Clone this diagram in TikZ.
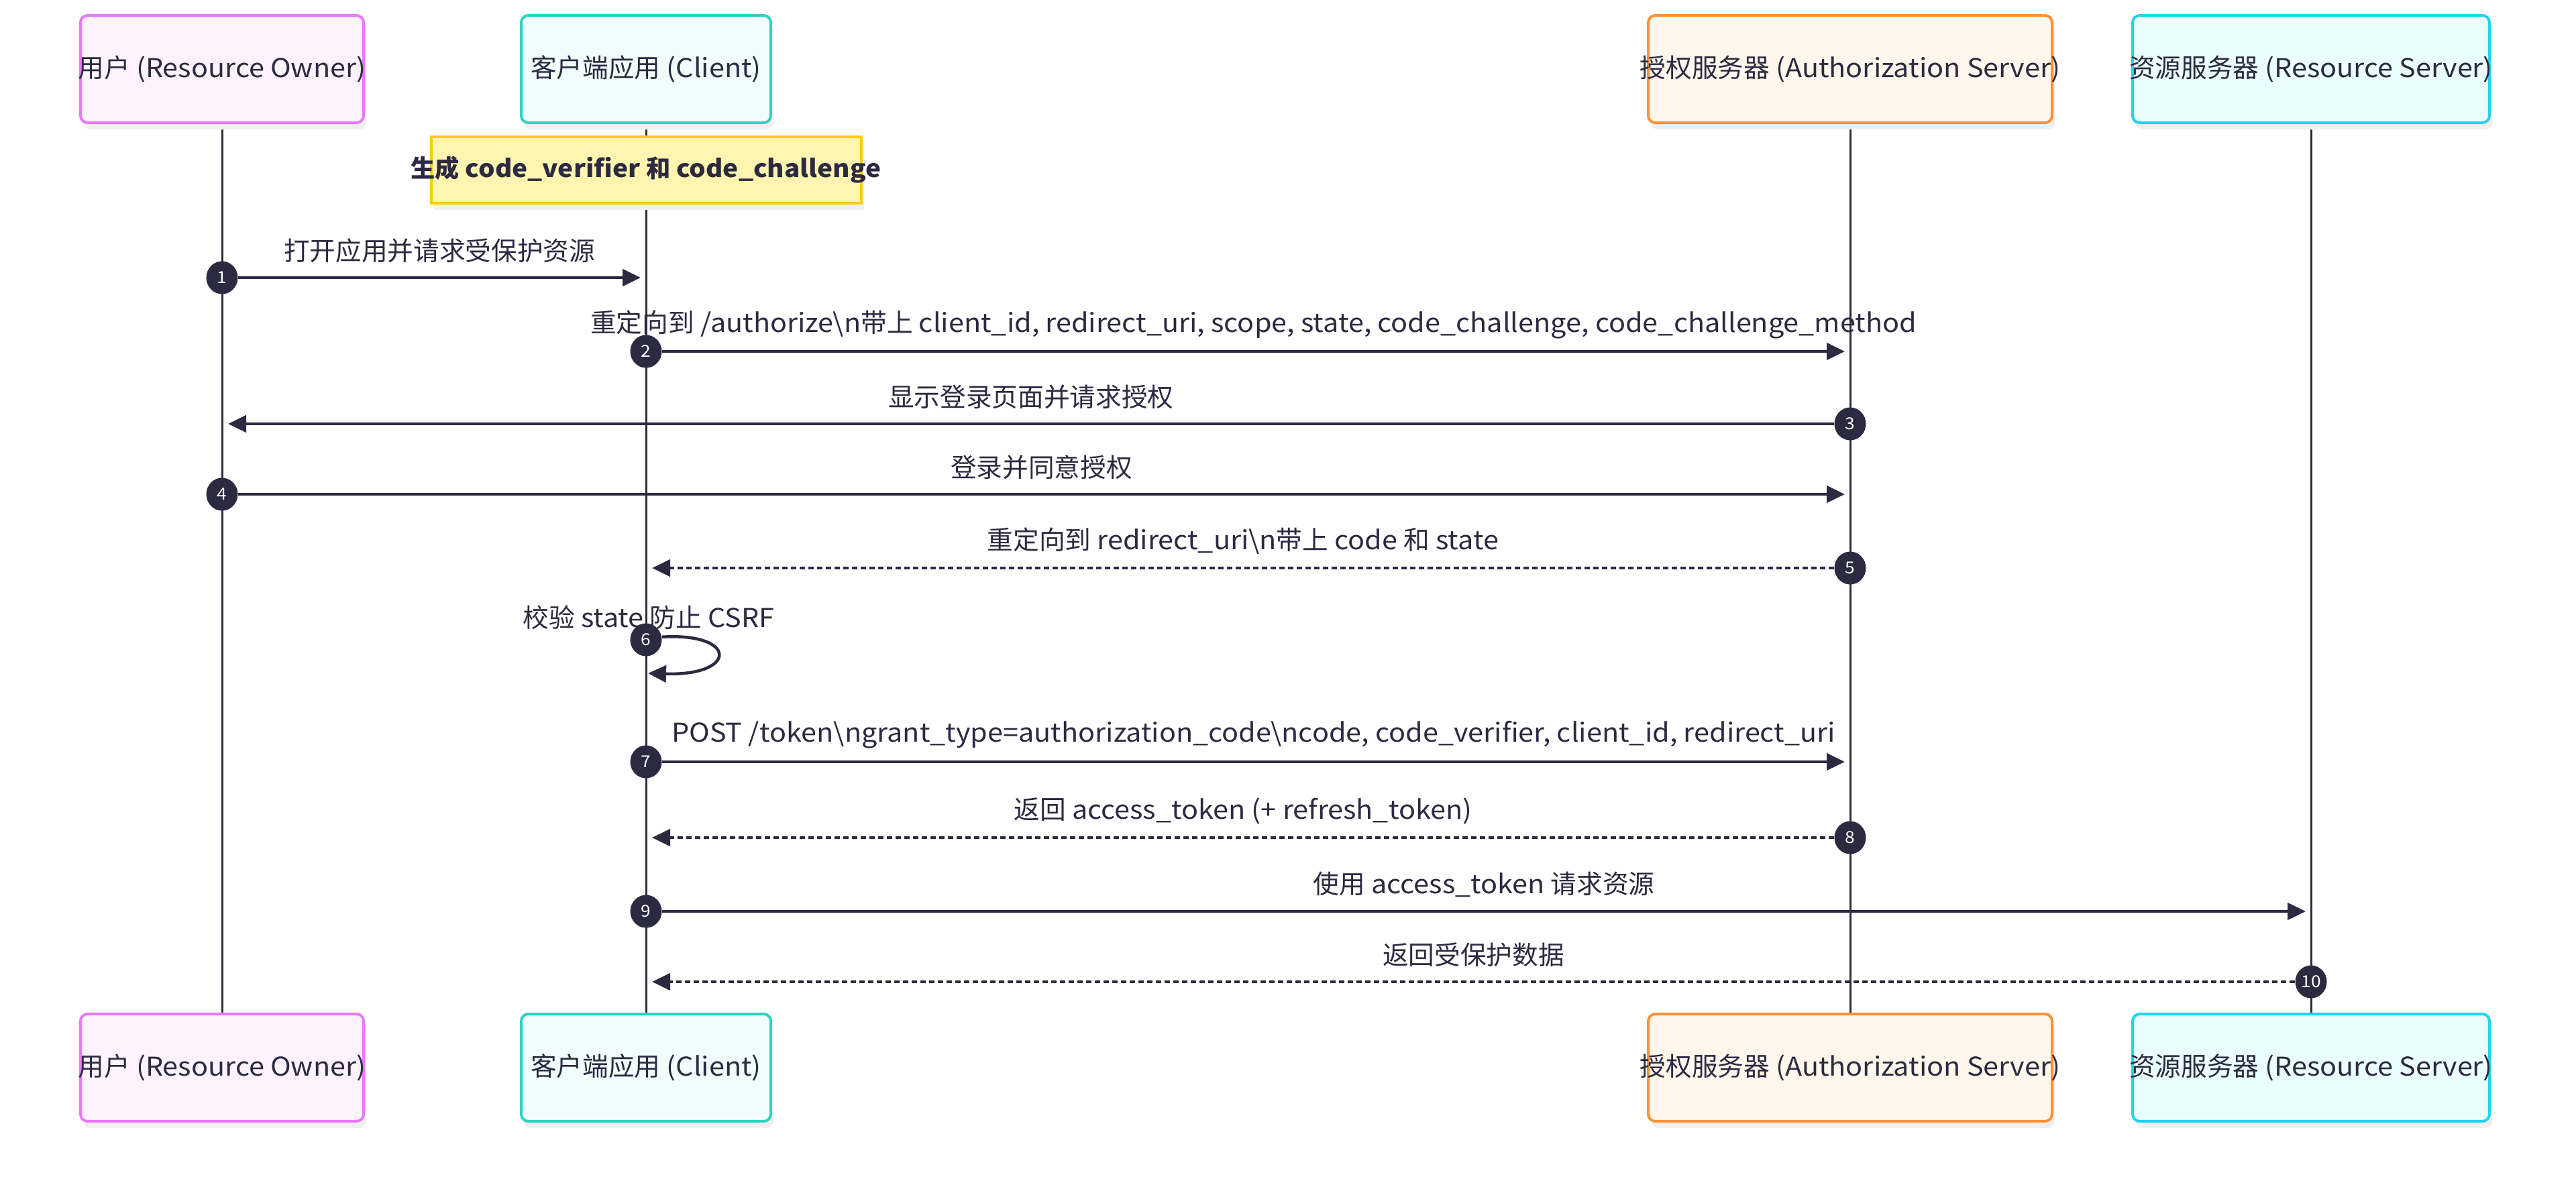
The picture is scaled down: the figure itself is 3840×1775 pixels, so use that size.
\documentclass[tikz,border=0pt]{standalone}
\usepackage{fontspec}
\setmainfont{Noto Sans CJK SC}[FakeStretch=1.07]
\newfontfamily\cjk{Noto Sans CJK SC}
\newcommand{\zh}[1]{{\cjk #1}}
\usetikzlibrary{arrows.meta,shadows,shapes.geometric}
\definecolor{ink}{HTML}{2B2A40}
\definecolor{ownerLine}{HTML}{E879F9}
\definecolor{ownerFill}{HTML}{FDF2FE}
\definecolor{clientLine}{HTML}{2DD4BF}
\definecolor{clientFill}{HTML}{F0FDFA}
\definecolor{authLine}{HTML}{FB923C}
\definecolor{authFill}{HTML}{FFF6EC}
\definecolor{resLine}{HTML}{22D3EE}
\definecolor{resFill}{HTML}{EBFEFF}
\definecolor{noteLine}{HTML}{FACC15}
\definecolor{noteFill}{HTML}{FFF5B0}

\begin{document}
\begin{tikzpicture}[x=0.1mm,y=-0.1mm,
    font=\fontsize{11}{13}\selectfont, text=ink,
    actor/.style={draw, rounded corners=3pt, line width=0.4mm, inner sep=0pt,
      minimum height=16mm, font=\fontsize{11}{13}\selectfont,
      drop shadow={shadow xshift=0.4mm, shadow yshift=-1mm, fill=black!6, opacity=1}},
    life/.style={draw=ink, line width=0.3mm},
    msg/.style={draw=ink, line width=0.45mm, -{Triangle[length=2.7mm,width=2.5mm]}},
    reply/.style={msg, dash pattern=on 0.8mm off 0.5mm},
    stepdot/.style={ellipse, fill=ink, text=white, inner sep=0pt, minimum width=4.7mm, minimum height=4.9mm,
      font=\fontsize{7}{8}\selectfont},
    lbl/.style={midway, yshift=4mm}]
  \useasboundingbox (0,0) rectangle (3840,1775);

  % Lifelines
  \draw[life] (331,183) -- (331,1513);
  \draw[life] (963,183) -- (963,1513);
  \draw[life] (2758,183) -- (2758,1513);
  \draw[life] (3445,183) -- (3445,1513);

  % Actors (top)
  \node[actor, draw=ownerLine, fill=ownerFill, minimum width=42.2mm] (ownerTop) at (331,103) {\makebox[0pt]{\zh{用户} (Resource Owner)}};
  \node[actor, draw=clientLine, fill=clientFill, minimum width=37.2mm] (clientTop) at (963,103) {\makebox[0pt]{\zh{客户端应用} (Client)}};
  \node[actor, draw=authLine, fill=authFill, minimum width=60.2mm] (authTop) at (2758,103) {\makebox[0pt]{\zh{授权服务器} (Authorization Server)}};
  \node[actor, draw=resLine, fill=resFill, minimum width=53.2mm] (resTop) at (3445,103) {\makebox[0pt]{\zh{资源服务器} (Resource Server)}};

  % Actors (bottom)
  \node[actor, draw=ownerLine, fill=ownerFill, minimum width=42.2mm] (ownerBot) at (331,1592) {\makebox[0pt]{\zh{用户} (Resource Owner)}};
  \node[actor, draw=clientLine, fill=clientFill, minimum width=37.2mm] (clientBot) at (963,1592) {\makebox[0pt]{\zh{客户端应用} (Client)}};
  \node[actor, draw=authLine, fill=authFill, minimum width=60.2mm] (authBot) at (2758,1592) {\makebox[0pt]{\zh{授权服务器} (Authorization Server)}};
  \node[actor, draw=resLine, fill=resFill, minimum width=53.2mm] (resBot) at (3445,1592) {\makebox[0pt]{\zh{资源服务器} (Resource Server)}};

  % Note
  \node[draw=noteLine, fill=noteFill, line width=0.4mm, minimum width=64.1mm, minimum height=9.9mm, inner sep=0pt,
    font=\fontsize{10.3}{13}\selectfont,
    drop shadow={shadow xshift=0.4mm, shadow yshift=-1mm, fill=black!6, opacity=1}] (note) at (963,253)
    {\makebox[0pt]{\bfseries \zh{生成} code\_verifier \zh{和} code\_challenge}};

  % Step markers
  \node[stepdot] (s1) at (331,414) {1};
  \node[stepdot] (s2) at (963,524) {2};
  \node[stepdot] (s3) at (2758,632) {3};
  \node[stepdot] (s4) at (331,737) {4};
  \node[stepdot] (s5) at (2758,847) {5};
  \node[stepdot] (s6) at (963,954) {6};
  \node[stepdot] (s7) at (963,1136) {7};
  \node[stepdot] (s8) at (2758,1249) {8};
  \node[stepdot] (s9) at (963,1359) {9};
  \node[stepdot] (s10) at (3445,1464) {10};

  % Arrow ends
  \coordinate (t1) at (955,414);
  \coordinate (t2) at (2750,524);
  \coordinate (t3) at (340,632);
  \coordinate (t4) at (2750,737);
  \coordinate (t5) at (972,847);
  \coordinate (t6) at (966,1004);
  \coordinate (t7) at (2750,1136);
  \coordinate (t8) at (972,1249);
  \coordinate (t9) at (3437,1359);
  \coordinate (t10) at (972,1464);

  % Messages
  \draw[msg] (s1) -- node[lbl] {\zh{打开应用并请求受保护资源}} (t1);
  \draw[msg] (s2) -- node[lbl] {\zh{重定向到} /authorize\textbackslash n\zh{带上} client\_id, redirect\_uri, scope, state, code\_challenge, code\_challenge\_method} (t2);
  \draw[msg] (s3) -- node[lbl] {\zh{显示登录页面并请求授权}} (t3);
  \draw[msg] (s4) -- node[lbl] {\zh{登录并同意授权}} (t4);
  \draw[reply] (s5) -- node[lbl] {\zh{重定向到} redirect\_uri\textbackslash n\zh{带上} code \zh{和} state} (t5);
  \draw[msg] (s6.10) .. controls (1100,943) and (1100,1008) .. (t6);
  \node (l6) at (967,921) {\zh{校验} state \zh{防止} CSRF};
  \draw[msg] (s7) -- node[lbl] {POST /token\textbackslash ngrant\_type=authorization\_code\textbackslash ncode, code\_verifier, client\_id, redirect\_uri} (t7);
  \draw[reply] (s8) -- node[lbl] {\zh{返回} access\_token (+ refresh\_token)} (t8);
  \draw[msg] (s9) -- node[lbl] {\zh{使用} access\_token \zh{请求资源}} (t9);
  \draw[reply] (s10) -- node[lbl] {\zh{返回受保护数据}} (t10);
\end{tikzpicture}
\end{document}
